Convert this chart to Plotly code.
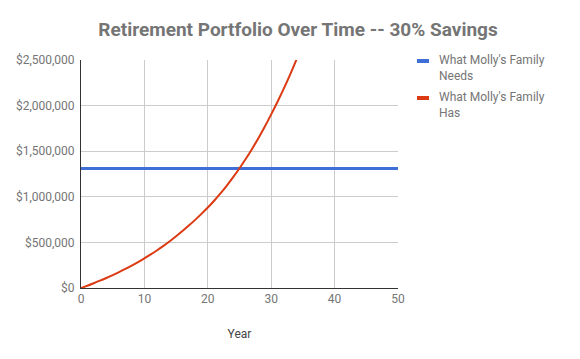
import plotly.graph_objects as go

years_has = list(range(0, 36))
has_values = [0, 25000, 52000, 80000, 110000, 141000, 174000, 209000, 246000, 285000,
              326000, 369000, 414000, 462000, 513000, 567000, 624000, 684000, 747000, 813000,
              882000, 957000, 1037000, 1123000, 1215000, 1313000, 1417000, 1528000, 1646000, 1771000,
              1904000, 2042000, 2188000, 2343000, 2507000, 2681000]
years_needs = [0, 50]
needs_values = [1310000, 1310000]

series_names = ["What Molly's Family<br>Needs", "What Molly's Family<br>Has"]
series_colors = ["#3f6fd6", "#dc3a12"]
title_text = "Retirement Portfolio Over Time -- 30% Savings"
x_ticks = [0, 10, 20, 30, 40, 50]
y_ticks = [0, 500000, 1000000, 1500000, 2000000, 2500000]

fig = go.Figure()
fig.add_trace(go.Scatter(x=years_needs, y=needs_values, mode="lines", name=series_names[0],
                         line=dict(color=series_colors[0], width=3)))
fig.add_trace(go.Scatter(x=years_has, y=has_values, mode="lines", name=series_names[1],
                         line=dict(color=series_colors[1], width=2, shape="spline")))

# custom legend (short line symbols + wrapped labels), placed in paper coordinates
legend_sym_y = [0.9956, 0.8333]
legend_txt_y = [0.967, 0.8048]
for i in range(2):
    fig.add_shape(type="line", xref="paper", yref="paper", x0=1.0599, x1=1.0978,
                  y0=legend_sym_y[i], y1=legend_sym_y[i],
                  line=dict(color=series_colors[i], width=4))
    fig.add_annotation(xref="paper", yref="paper", x=1.123, y=legend_txt_y[i],
                       xanchor="left", yanchor="middle", align="left", showarrow=False,
                       text=series_names[i], font=dict(size=12, color="#757575"))

fig.update_layout(
    width=580, height=359,
    margin=dict(l=73, r=190, t=52, b=79),
    paper_bgcolor="white", plot_bgcolor="white",
    font=dict(family="Roboto, Arial, sans-serif", color="#757575", size=12),
    title=dict(text="<b>" + title_text + "</b>", x=0.5, xanchor="center", y=0.94, yanchor="middle",
               font=dict(size=19, color="#757575", family="Roboto, Arial, sans-serif")),
    showlegend=False,
    xaxis=dict(range=[0, 50], tickvals=x_ticks, showgrid=True, gridcolor="#cccccc", gridwidth=1,
               zeroline=False, showline=True, linecolor="#333333", linewidth=1,
               ticks="", tickfont=dict(size=12, color="#757575"), automargin=False,
               title=dict(text="Year", font=dict(size=12, color="#444444"), standoff=24)),
    yaxis=dict(range=[0, 2500000], tickvals=y_ticks, tickformat="$,.0f", showgrid=True,
               gridcolor="#cccccc", gridwidth=1, zeroline=False, showline=True,
               linecolor="#333333", linewidth=1, ticks="", ticklabelstandoff=3, automargin=False,
               tickfont=dict(size=12, color="#757575")),
)

fig.write_html("out.html")
